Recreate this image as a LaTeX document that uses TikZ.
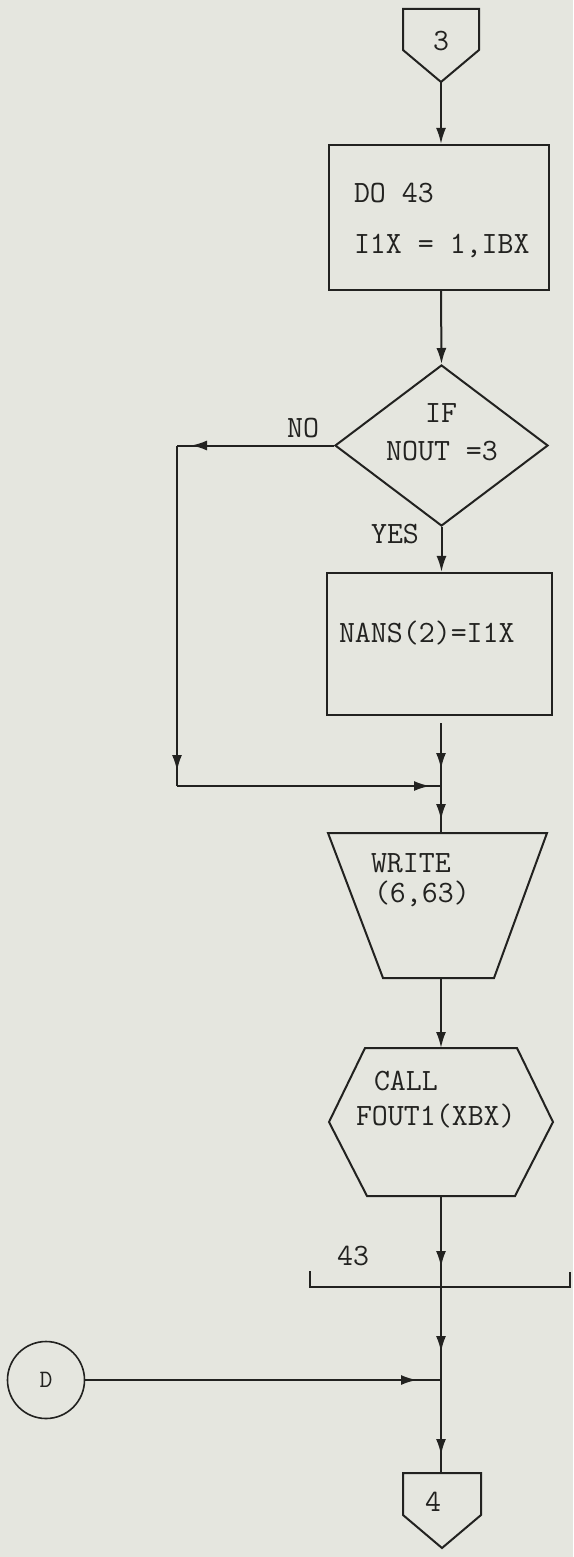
\documentclass[tikz,border=0pt]{standalone}
\usepackage{fontspec}
\usepackage{xcolor}
\usepackage{tikz}
\usetikzlibrary{shapes.geometric, arrows.meta, positioning, decorations.markings, calc}

\definecolor{paper}{RGB}{229,230,223}
\definecolor{ink}{RGB}{34,34,32}

\begin{document}
\begin{tikzpicture}[x=1pt, y=-1pt,
        line width=2pt, draw=ink, color=ink,
        txt/.style={font=\ttfamily\fontsize{31}{36}\selectfont, inner sep=0pt, text=ink},
        small/.style={font=\ttfamily\fontsize{25}{30}\selectfont, inner sep=0pt, text=ink},
        box/.style={draw=ink, rectangle, line width=2.2pt, inner sep=0pt},
        decision/.style={draw=ink, diamond, line width=2pt, inner sep=0pt, minimum width=213pt, minimum height=161pt},
        connector/.style={draw=ink, circle, line width=1.6pt, minimum size=77pt, inner sep=0pt},
        arrow/.style={-{Latex[length=16pt, width=10pt]}},
        flow/.style={postaction={decorate, decoration={markings, mark=at position #1 with {\arrow{Latex[length=16pt, width=10pt]}}}}}
    ]

    % Page
    \fill[paper] (0,0) rectangle (573,1557);
    \useasboundingbox (0,0) rectangle (573,1557);

    % Off-page connector 3
    \draw (403,9) -- (479,9) -- (479,50) -- (441,82) -- (403,50) -- cycle;
    \node[txt] (lbl3) at (441,41) {3};
    \coordinate (tip3) at (441,82);

    % DO loop
    \node[box, minimum width=220pt, minimum height=145pt] (dobox) at (439,217.5) {};
    \node[txt, anchor=base west] (dotext) at (353,202) {DO 43};
    \node[txt, anchor=base west] (dorange) at (353,253) {I1X = 1,IBX};

    % Decision
    \node[decision] (ifnout) at (441.5,445.5) {};
    \node[txt, anchor=base] (iftext) at (441,422) {IF};
    \node[txt, anchor=base] (iftest) at (442,460) {NOUT =3};
    \node[txt, anchor=base] (nolabel) at (303,437) {NO};
    \node[txt, anchor=base] (yeslabel) at (395,543) {YES};

    % Assignment
    \node[box, minimum width=225pt, minimum height=142pt] (nansbox) at (439.5,644) {};
    \node[txt, anchor=base west] (nanstext) at (338,642) {NANS(2)=I1X};

    % Write (trapezoid)
    \draw (328,833) -- (547,833) -- (494,978) -- (383,978) -- cycle;
    \node[txt, anchor=base west] (writetext) at (370,872) {WRITE};
    \node[txt, anchor=base west] (writeargs) at (373,902) {(6,63)};
    \coordinate (writetop) at (441,833);
    \coordinate (writebot) at (441,978);

    % Call (hexagon)
    \draw (329,1122) -- (365,1048) -- (517,1048) -- (553,1122) -- (515,1196) -- (367,1196) -- cycle;
    \node[txt, anchor=base west] (calltext) at (373,1090) {CALL};
    \node[txt, anchor=base west] (callname) at (355,1125) {FOUT1(XBX)};
    \coordinate (calltop) at (441,1048);
    \coordinate (callbot) at (441,1196);

    % Loop end 43
    \draw (310,1271) -- (310,1287) -- (570,1287) -- (570,1272);
    \node[txt, anchor=base] (looplabel) at (353,1265) {43};
    \coordinate (joinB) at (441,1287);

    % Connector D
    \node[connector, small] (dconn) at (46,1380) {D};
    \coordinate (joinC) at (441,1380);

    % Off-page connector 4
    \draw (403,1473) -- (481,1473) -- (481,1515) -- (442,1548) -- (403,1515) -- cycle;
    \node[txt] (lbl4) at (433,1502) {4};
    \coordinate (top4) at (441,1473);

    % Routing points
    \path (ifnout.west) ++(-157,0) coordinate (nocorner);
    \coordinate (joinA) at (441,786);
    \coordinate (nobottom) at (nocorner |- joinA);

    % Main flow
    \draw[arrow] (tip3) -- (tip3 |- dobox.north);
    \draw[arrow] (tip3 |- dobox.south) -- (ifnout.north);
    \draw[arrow] (ifnout.south) -- (ifnout.south |- nansbox.north);
    \draw[flow=-17pt, shorten <=7pt] (joinA |- nansbox.south) -- (joinA);
    \draw[flow=-13pt] (joinA) -- (writetop);
    \draw[arrow] (writebot) -- (calltop);
    \draw[flow=-20pt] (callbot) -- (joinB);
    \draw[flow=-28pt] (joinB) -- (joinC);
    \draw[flow=-18pt] (joinC) -- (top4);

    % NO branch
    \draw[flow=-14pt] (ifnout.west) -- (nocorner);
    \draw[flow=-15pt] (nocorner) -- (nobottom);
    \draw[flow=-11pt] (nobottom) -- (joinA);

    % From D
    \draw[flow=-24pt] (dconn.east) -- (joinC);
\end{tikzpicture}
\end{document}
